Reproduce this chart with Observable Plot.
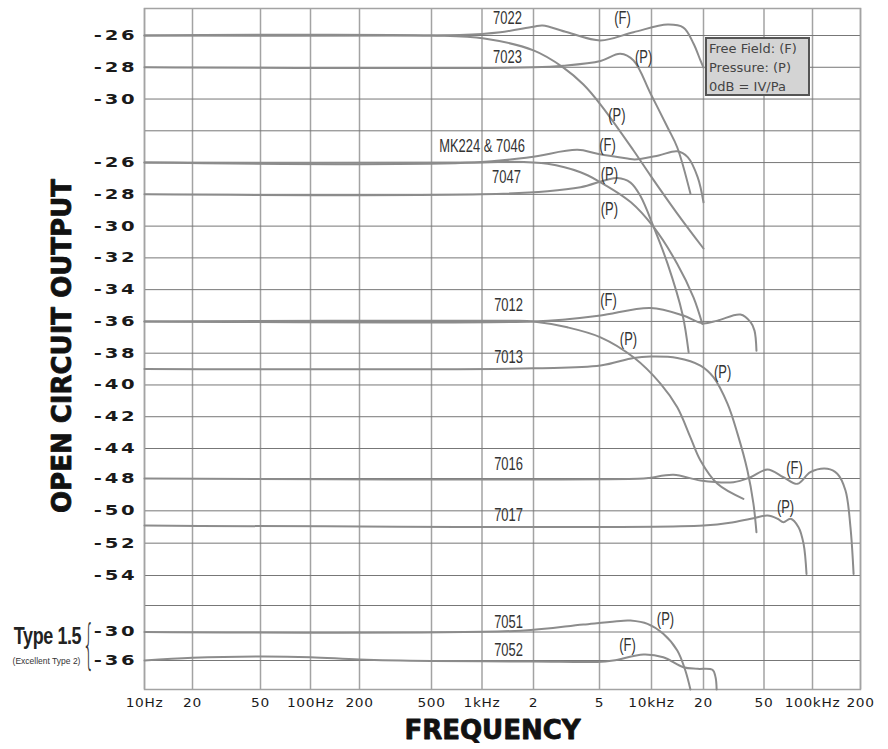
<!DOCTYPE html>
<html><head><meta charset="utf-8">
<script src="https://cdn.jsdelivr.net/npm/d3@7"></script>
<script src="https://cdn.jsdelivr.net/npm/@observablehq/plot@0.6"></script>
<style>
body{margin:0;background:#fff;}
#wrap{position:relative;width:888px;height:749px;}
#legend{position:absolute;left:705px;top:37px;width:105px;height:59px;background:#d4d4d4;border:2px solid #555;font-family:"DejaVu Sans",sans-serif;font-size:13px;color:#444;line-height:19px;padding:0 0 0 2px;box-sizing:border-box;white-space:nowrap;overflow:hidden;}
</style></head><body><div id="wrap"></div>
<script>
// ---- axis ticks ----
const xTicks = [10,20,50,100,200,500,1000,2000,5000,10000,20000,50000,100000,200000];
const xTickLabels = ["10Hz","20","50","100Hz","200","500","1kHz","2","5","10kHz","20","50","100kHz","200"];
const panelATicks = [-26,-28,-30];
const panelBTicks = [-26,-28,-30,-32,-34,-36,-38,-40,-42,-44,-48,-50,-52,-54];
const panelCTicks = [-30,-36];
const panelAEdges = [-32];
const panelBEdges = [-56];

// ---- series: [frequency Hz, dB] ----
const s7022F = [[10,-26],[490,-26],[1000,-25.9],[1280,-25.8],[2000,-25.45],[2270,-25.37],[3200,-25.8],[5070,-26.31],[7870,-25.79],[12400,-25.31],[15300,-25.5],[17500,-26.5],[19200,-27.57],[20000,-28.02]];
const s7022P = [[10,-26],[500,-26],[1030,-26.19],[2000,-26.94],[3030,-28.02],[4000,-29.09],[5070,-30.35],[7870,-33.24],[9870,-34.82],[14100,-37.21],[20000,-39.41]];
const s7023P = [[10,-28],[2000,-28],[3030,-27.9],[5070,-27.6],[6600,-27.15],[7870,-27.57],[9870,-29.65],[12400,-31.79],[14100,-33.05],[16800,-35.95]];
const sMK224F = [[10,-26],[900,-26],[1900,-25.66],[3680,-25.2],[4860,-25.45],[7260,-25.75],[8000,-25.81],[11000,-25.55],[14100,-25.29],[16200,-25.66],[18500,-26.92],[20000,-28.5]];
const sMK224P = [[10,-26],[1000,-26],[1470,-25.95],[2430,-26.08],[3840,-26.61],[4860,-27.13],[7600,-28.5],[10300,-30.07],[14100,-32.38],[17500,-34.48],[19700,-36.16]];
const s7047P = [[10,-28],[1000,-28],[2430,-27.8],[3840,-27.55],[6350,-26.97],[7560,-27.26],[8600,-28.08],[10300,-30.07],[12400,-32.38],[15100,-35.53],[16400,-37.94]];
const s7012F = [[10,-36],[2000,-36],[3200,-35.86],[5070,-35.63],[9870,-35.15],[15300,-35.63],[19700,-36.12],[24700,-35.95],[35000,-35.57],[40800,-36.05],[43300,-36.58],[44600,-37.84]];
const s7012P = [[10,-36],[1500,-35.95],[2000,-36],[3200,-36.37],[5070,-37.0],[7870,-38.26],[11300,-39.93],[14100,-41.41],[16800,-43.3],[19200,-45.6],[24700,-48.33],[36600,-49.26]];
const s7013P = [[10,-39],[2000,-38.95],[5070,-38.78],[7870,-38.3],[9870,-38.21],[14100,-38.3],[19200,-38.78],[23300,-39.52],[28800,-41.19],[33500,-43.08],[38900,-46.93],[42600,-49.56],[44600,-51.32]];
const s7016F = [[10,-48],[9000,-48],[9870,-47.9],[13400,-47.5],[19200,-48.12],[31500,-48.23],[40800,-47.83],[52600,-46.8],[66000,-47.83],[80700,-48.33],[97000,-47.16],[124000,-46.71],[143000,-47.37],[161000,-48.74],[173000,-51.01],[181000,-53.9]];
const s7017P = [[10,-50.9],[20000,-50.9],[31500,-50.7],[42600,-50.46],[52600,-50.29],[60700,-50.49],[66000,-50.7],[73000,-50.49],[81900,-51.01],[88000,-52.04],[91800,-53.9]];
const s7051P = [[10,-30],[1680,-29.7],[4000,-28.3],[7260,-27.4],[7560,-27.4],[9480,-28.15],[11700,-30.38],[14100,-33.89],[15700,-38.07],[16800,-42]];
const s7052F = [[10,-36],[20,-35.43],[50,-35.16],[100,-35.31],[200,-35.79],[500,-36.1],[2000,-36.2],[4860,-36.3],[6000,-36],[9000,-34.74],[11700,-35.31],[15300,-37.39],[18500,-37.72],[22900,-37.92],[24000,-39.46],[24400,-42]];

// ---- annotations: [text, panel, frequency, dB] ----
const curveLabels = [
  ["7022","A",1410,-24.93],["(F)","A",6800,-24.93],["7023","A",1410,-27.39],["(P)","A",9000,-27.37],["(P)","A",6300,-31.04],
  ["MK224 & 7046","B",1000,-24.97],["(F)","B",5560,-24.93],["7047","B",1390,-26.92],["(P)","B",5700,-26.71],["(P)","B",5700,-28.91],
  ["7012","B",1430,-35.0],["(F)","B",5640,-34.69],["(P)","B",7360,-37.1],["7013","B",1430,-38.26],["(P)","B",26700,-39.2],
  ["7016","B",1430,-46.13],["(F)","B",77300,-46.57],["7017","B",1430,-50.29],["(P)","B",68000,-49.78],
  ["7051","C",1430,-27.78],["(P)","C",12050,-27.01],["7052","C",1430,-33.75],["(F)","C",7260,-32.84]
];
const legendLines = ["Free Field: (F)","Pressure: (P)","0dB = IV/Pa"];
const sideTitle = "Type 1.5";
const sideNote = "(Excellent Type 2)";

// panel dB -> shared vertical position value
const toV = {A: db => db, B: db => db - 8, C: db => -64 + (db + 24) / 3};

const seriesList = [
  ["7022F","A",s7022F],["7022P","A",s7022P],["7023P","A",s7023P],
  ["MK224F","B",sMK224F],["MK224P","B",sMK224P],["7047P","B",s7047P],
  ["7012F","B",s7012F],["7012P","B",s7012P],["7013P","B",s7013P],
  ["7016F","B",s7016F],["7017P","B",s7017P],
  ["7051P","C",s7051P],["7052F","C",s7052F]
];
const rows = seriesList.flatMap(([name, panel, pts]) => pts.map(([f, db]) => ({name, f, v: toV[panel](db)})));

const yTickRows = [
  ...panelATicks.map(db => ({label: String(db), v: toV.A(db)})),
  ...panelBTicks.map(db => ({label: String(db), v: toV.B(db)})),
  ...panelCTicks.map(db => ({label: String(db), v: toV.C(db)}))
];
const gridV = [...yTickRows.map(d => d.v), ...panelAEdges.map(toV.A), ...panelBEdges.map(toV.B)];
const labelRows = curveLabels.map(([text, panel, f, db]) => ({text, f, v: toV[panel](db)}));

const chart = Plot.plot({
  width: 888, height: 749,
  marginTop: 8, marginRight: 28, marginBottom: 60, marginLeft: 144,
  x: {type: "log", domain: xTicks, range: [144,192,260,310,359,431,481.5,533,599,651,703,763.5,812,860], axis: null},
  y: {type: "linear", domain: [-70,-68,-66,-64,-62,-56,-52,-26,-24.3], range: [689,660,631.5,605,575,478,448,35,8], axis: null},
  marks: [
    Plot.ruleX(xTicks, {x: d => d, stroke: "#a3a3a3", strokeWidth: 1.5}),
    Plot.ruleY(gridV, {y: d => d, stroke: "#777", strokeWidth: 1}),
    Plot.frame({stroke: "#a3a3a3", strokeWidth: 1.5}),
    Plot.line(rows, {x: "f", y: "v", z: "name", stroke: "#8c8c8c", strokeWidth: 2, curve: "catmull-rom"}),
    Plot.text(labelRows, {x: "f", y: "v", text: "text", fill: "#333", fontSize: 18, fontFamily: "'Liberation Sans',sans-serif"}),
    Plot.text(yTickRows, {y: "v", text: "label", frameAnchor: "left", dx: -7, textAnchor: "end", fill: "#1a1a1a", fontSize: 14, fontWeight: "bold", fontFamily: "'DejaVu Sans',sans-serif"}),
    Plot.text(xTicks, {x: d => d, text: (d, i) => xTickLabels[i], frameAnchor: "bottom", dy: 17, fill: "#1a1a1a", fontSize: 12.5, fontFamily: "'DejaVu Sans',sans-serif"}),
    Plot.text(["OPEN CIRCUIT OUTPUT"], {frameAnchor: "left", dx: -82, dy: -3, rotate: -90, textAnchor: "middle", fontSize: 26, fontWeight: "bold", fill: "#111", stroke: "#111", strokeWidth: 0.8, fontFamily: "'DejaVu Sans',sans-serif"}),
    Plot.text(["FREQUENCY"], {frameAnchor: "bottom", dx: -10, dy: 49, textAnchor: "middle", fontSize: 26, fontWeight: "bold", fill: "#111", stroke: "#111", strokeWidth: 0.8, fontFamily: "'DejaVu Sans',sans-serif"}),
    Plot.text([sideTitle], {y: () => toV.C(-30.95), frameAnchor: "left", dx: -97, textAnchor: "middle", fontSize: 23, fontWeight: "bold", fill: "#222", fontFamily: "'Liberation Sans',sans-serif"}),
    Plot.text([sideNote], {y: () => toV.C(-36.2), frameAnchor: "left", dx: -98, textAnchor: "middle", fontSize: 8.5, fill: "#333", fontFamily: "'Liberation Sans',sans-serif"}),
    Plot.text(["{"], {y: () => toV.C(-32.8), frameAnchor: "left", dx: -56, textAnchor: "middle", fontSize: 54, fontWeight: 200, fill: "#333", fontFamily: "'DejaVu Sans',sans-serif"})
  ]
});

const svg = d3.select(chart);
function stretch(sel, sx, ls) {
  sel.each(function() {
    const t = this.getAttribute("transform") || "";
    const x = +this.getAttribute("x") || 0, y = +this.getAttribute("y") || 0;
    this.setAttribute("transform", `${t} translate(${x},${y}) scale(${sx},1) translate(${-x},${-y})`);
    if (ls) this.style.letterSpacing = ls;
  });
}
const texts = svg.selectAll("text");
const yTickSet = new Set(yTickRows.map(d => d.label));
const xTickSet = new Set(xTickLabels);
const labSet = new Set(curveLabels.map(d => d[0]));
texts.each(function() {
  const g = this.parentNode;
  const fs = g.getAttribute("font-size");
  const s = d3.select(this);
  const txt = this.textContent;
  if (fs === "14" && yTickSet.has(txt)) stretch(s, 1.4, "2px");
  else if (fs === "12.5" && xTickSet.has(txt)) stretch(s, 1.1, "0.6px");
  else if (fs === "18" && labSet.has(txt)) stretch(s, 0.72, null);
  else if (txt === sideTitle) stretch(s, 0.78, "-0.5px");
  else if (txt === "{") stretch(s, 0.34, null);
});

const wrap = document.getElementById("wrap");
wrap.appendChild(chart);
const lg = document.createElement("div");
lg.id = "legend";
lg.innerHTML = legendLines.map(s => `<div>${s}</div>`).join("");
wrap.appendChild(lg);
</script>
</body></html>
